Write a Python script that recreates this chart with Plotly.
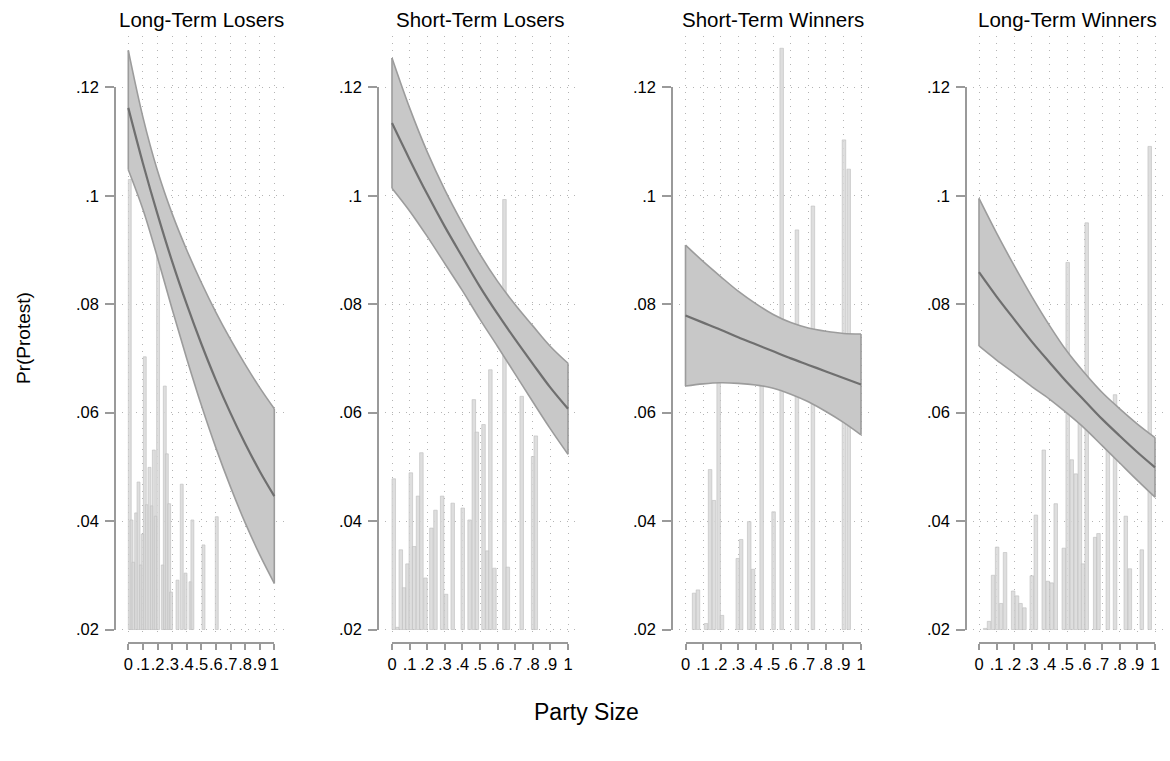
import plotly.graph_objects as go

# ---------------- data ----------------
panel_titles = ["Long-Term Losers", "Short-Term Losers", "Short-Term Winners", "Long-Term Winners"]

party_size = [0.0, 0.1, 0.2, 0.3, 0.4, 0.5, 0.6, 0.7, 0.8, 0.9, 1.0]

ltl_mean = [.1162, .1060, .0966, .0879, .0800, .0727, .0660, .0599, .0543, .0492, .0446]
ltl_upper = [.1268, .1145, .1046, .0967, .0900, .0840, .0785, .0735, .0689, .0646, .0607]
ltl_lower = [.1048, .0975, .0886, .0791, .0700, .0614, .0535, .0463, .0397, .0338, .0285]

stl_mean = [.1134, .1067, .1003, .0943, .0887, .0832, .0782, .0735, .0690, .0646, .0607]
stl_upper = [.1254, .1162, .1081, .1011, .0949, .0892, .0842, .0799, .0760, .0722, .0691]
stl_lower = [.1014, .0972, .0925, .0875, .0825, .0772, .0722, .0671, .0620, .0570, .0523]

stw_mean = [.0779, .0766, .0753, .0739, .0726, .0713, .0700, .0688, .0676, .0664, .0652]
stw_upper = [.0909, .0879, .0851, .0824, .0801, .0781, .0766, .0756, .0750, .0746, .0745]
stw_lower = [.0649, .0653, .0655, .0654, .0651, .0645, .0634, .0620, .0602, .0582, .0559]

ltw_mean = [.0859, .0814, .0772, .0731, .0693, .0656, .0622, .0588, .0557, .0527, .0499]
ltw_upper = [.0995, .0931, .0871, .0814, .0761, .0713, .0673, .0637, .0607, .0579, .0554]
ltw_lower = [.0723, .0697, .0673, .0648, .0625, .0599, .0571, .0539, .0507, .0475, .0444]

# distribution bars (bar centres and top values; bars start at .02)
ltl_bar_x = [.010, .022, .035, .054, .070, .086, .099, .113, .127, .145, .161, .175, .188, .204,
             .236, .250, .264, .280, .293, .337, .366, .392, .426, .439, .515, .606]
ltl_bar_y = [.103, .0402, .0324, .0415, .0472, .0319, .0376, .0703, .0430, .0499, .0428, .0531, .0409, .0971,
             .0319, .0649, .0524, .0432, .0269, .0291, .0468, .0304, .0288, .0402, .0356, .0408]

stl_bar_x = [.010, .031, .050, .069, .088, .107, .126, .148, .167, .190, .224, .247, .285, .307,
             .345, .402, .441, .465, .482, .520, .542, .559, .582, .639, .658, .737, .802, .817]
stl_bar_y = [.0478, .0204, .0347, .0277, .0321, .0489, .0353, .0446, .0526, .0295, .0387, .0420, .0446, .0265,
             .0433, .0424, .0402, .0624, .0564, .0578, .0345, .0679, .0313, .0993, .0315, .0630, .0519, .0557]

stw_bar_x = [.049, .071, .117, .140, .162, .189, .208, .298, .317, .363, .385, .434, .502, .548,
             .635, .726, .903, .930]
stw_bar_y = [.0267, .0273, .0211, .0495, .0438, .0746, .0226, .0331, .0366, .0399, .0311, .0781, .0417, .1272,
             .0937, .0981, .1103, .1049]

ltw_bar_x = [.035, .057, .080, .103, .125, .148, .194, .216, .236, .258, .300, .323, .368, .391, .413,
             .436, .482, .504, .527, .550, .573, .591, .612, .660, .679, .732, .773, .834, .857, .925, .970]
ltw_bar_y = [.0202, .0215, .0300, .0352, .0248, .0342, .0271, .0262, .0248, .0240, .0299, .0411, .0531, .0289, .0286,
             .0432, .0350, .0877, .0513, .0487, .0656, .0321, .0950, .0370, .0377, .0605, .0633, .0409, .0312, .0347, .1091]

x_tick_vals = [0, .1, .2, .3, .4, .5, .6, .7, .8, .9, 1]
x_tick_text = ["0", ".1", ".2", ".3", ".4", ".5", ".6", ".7", ".8", ".9", "1"]
y_tick_vals = [.02, .04, .06, .08, .10, .12]
y_tick_text = [".02", ".04", ".06", ".08", ".1", ".12"]
bar_base = 0.02

panels = [
    (ltl_mean, ltl_upper, ltl_lower, ltl_bar_x, ltl_bar_y),
    (stl_mean, stl_upper, stl_lower, stl_bar_x, stl_bar_y),
    (stw_mean, stw_upper, stw_lower, stw_bar_x, stw_bar_y),
    (ltw_mean, ltw_upper, ltw_lower, ltw_bar_x, ltw_bar_y),
]

# ---------------- layout geometry (pixels) ----------------
W, H = 1170, 761
# x pixel of data 0, data 1, left edge (axis line), right edge of plot region
geom = [
    (128.3, 274.3, 115.0, 283.5),
    (392.0, 568.0, 378.0, 580.5),
    (685.5, 861.0, 672.0, 873.5),
    (979.0, 1155.0, 966.0, 1167.0),
]
Y02_PX, Y12_PX = 629.5, 87.3          # pixel rows of .02 and .12
TOP_PX, BOT_PX = 36.0, 638.0          # plot region
XAXIS_PX = 643.0                       # row of separate x axis line


def fx(p):
    return p / W


def fy(p):
    return 1 - p / H


def val_at(py):
    return 0.02 + (Y02_PX - py) * 0.10 / (Y02_PX - Y12_PX)


FONT = "Liberation Sans, Arial, Helvetica, sans-serif"
GRID = dict(showgrid=True, gridcolor="#b4b4b4", gridwidth=1, griddash="1px,6px",
            zeroline=False, showline=False, ticks="", showticklabels=False, automargin=False)
AX_COLOR = "#9a9a9a"
CI_FILL = "#c8c8c8"
CI_EDGE = dict(width=1.6, color="#9c9c9c", shape="spline")

fig = go.Figure()
layout = dict(
    template="none",
    width=W, height=H, margin=dict(l=0, r=0, t=0, b=0, pad=0, autoexpand=False),
    paper_bgcolor="white", plot_bgcolor="rgba(0,0,0,0)",
    showlegend=False, font=dict(family=FONT, color="black"),
)
annotations = []

for i, (mean, upper, lower, bx, by) in enumerate(panels):
    k = i + 1
    X0, X1, L, R = geom[i]
    xr = [(L - X0) / (X1 - X0), (R - X0) / (X1 - X0)]
    xa, ya = f"x{k}", f"y{k}"
    xname = "xaxis" if k == 1 else f"xaxis{k}"
    yname = "yaxis" if k == 1 else f"yaxis{k}"
    layout[xname] = dict(domain=[fx(L), fx(R)], range=xr, anchor=ya,
                         tickvals=x_tick_vals, **GRID)
    layout[yname] = dict(domain=[fy(BOT_PX), fy(TOP_PX)], range=[val_at(BOT_PX), val_at(TOP_PX)],
                         anchor=xa, tickvals=y_tick_vals, **GRID)

    # CI fill (between the two spline bounds)
    fig.add_trace(go.Scatter(x=party_size, y=lower, xaxis=xa, yaxis=ya, mode="lines",
                             line=dict(width=0, shape="spline"), hoverinfo="skip"))
    fig.add_trace(go.Scatter(x=party_size, y=upper, xaxis=xa, yaxis=ya, mode="lines",
                             fill="tonexty", fillcolor=CI_FILL,
                             line=dict(width=0, shape="spline"), hoverinfo="skip"))
    # bars
    fig.add_trace(go.Bar(
        x=bx, y=[v - bar_base for v in by], base=bar_base, width=0.02,
        xaxis=xa, yaxis=ya,
        marker=dict(color="rgba(216,216,216,0.85)", line=dict(color="rgba(192,192,192,0.9)", width=0.7)),
        hoverinfo="skip"))
    # CI outline: upper, lower, and the two closing edges
    fig.add_trace(go.Scatter(x=party_size, y=upper, xaxis=xa, yaxis=ya, mode="lines",
                             line=CI_EDGE, hoverinfo="skip"))
    fig.add_trace(go.Scatter(x=party_size, y=lower, xaxis=xa, yaxis=ya, mode="lines",
                             line=CI_EDGE, hoverinfo="skip"))
    for j in (0, -1):
        fig.add_trace(go.Scatter(x=[party_size[j], party_size[j]], y=[lower[j], upper[j]],
                                 xaxis=xa, yaxis=ya, mode="lines",
                                 line=dict(width=1.6, color="#9c9c9c"), hoverinfo="skip"))
    # mean line
    fig.add_trace(go.Scatter(
        x=party_size, y=mean, xaxis=xa, yaxis=ya, mode="lines",
        line=dict(width=2.2, color="#6f6f6f", shape="spline"),
        hoverinfo="skip"))

    # separate axes (Stata style: lines span tick range only)
    k2 = k + 4
    xa2, ya2 = f"x{k2}", f"y{k2}"
    layout[f"xaxis{k2}"] = dict(
        domain=[fx(X0), fx(X1)], range=[0, 1], anchor="free", position=fy(XAXIS_PX),
        showline=True, linecolor=AX_COLOR, linewidth=1.5, showgrid=False, zeroline=False,
        ticks="outside", ticklen=6, tickwidth=1.5, tickcolor=AX_COLOR, tickangle=0, automargin=False,
        tickvals=x_tick_vals, ticktext=x_tick_text, tickfont=dict(size=16.5, family=FONT, color="black"))
    layout[f"yaxis{k2}"] = dict(
        domain=[fy(Y02_PX), fy(Y12_PX)], range=[0.02, 0.12], anchor="free", position=fx(L),
        showline=True, linecolor=AX_COLOR, linewidth=1.5, showgrid=False, zeroline=False,
        ticks="outside", ticklen=9, tickwidth=1.5, tickcolor=AX_COLOR, ticklabelstandoff=3,
        automargin=False,
        tickvals=y_tick_vals, ticktext=y_tick_text, tickfont=dict(size=16.5, family=FONT, color="black"))
    fig.add_trace(go.Scatter(x=[0, 1], y=[0.02, 0.12], xaxis=xa2, yaxis=ya2, mode="markers",
                             marker=dict(opacity=0), hoverinfo="skip"))

    annotations.append(dict(text=panel_titles[i], xref="paper", yref="paper",
                            x=fx((X0 + X1) / 2), y=fy(19), xanchor="center", yanchor="middle",
                            showarrow=False, font=dict(size=20.5, family=FONT, color="black")))

annotations.append(dict(text="Pr(Protest)", xref="paper", yref="paper", x=fx(23), y=fy(338),
                        xanchor="center", yanchor="middle", textangle=-90, showarrow=False,
                        font=dict(size=19, family=FONT, color="black")))
annotations.append(dict(text="Party Size", xref="paper", yref="paper", x=fx(586), y=fy(712),
                        xanchor="center", yanchor="middle", showarrow=False,
                        font=dict(size=23, family=FONT, color="black")))
layout["annotations"] = annotations
layout["barmode"] = "overlay"
fig.update_layout(**layout)

fig.write_html(
    "out.html",
    config={"displayModeBar": False},
    post_script="document.body.style.margin='0';document.body.style.overflow='hidden';"
                "document.documentElement.style.overflow='hidden';",
)
